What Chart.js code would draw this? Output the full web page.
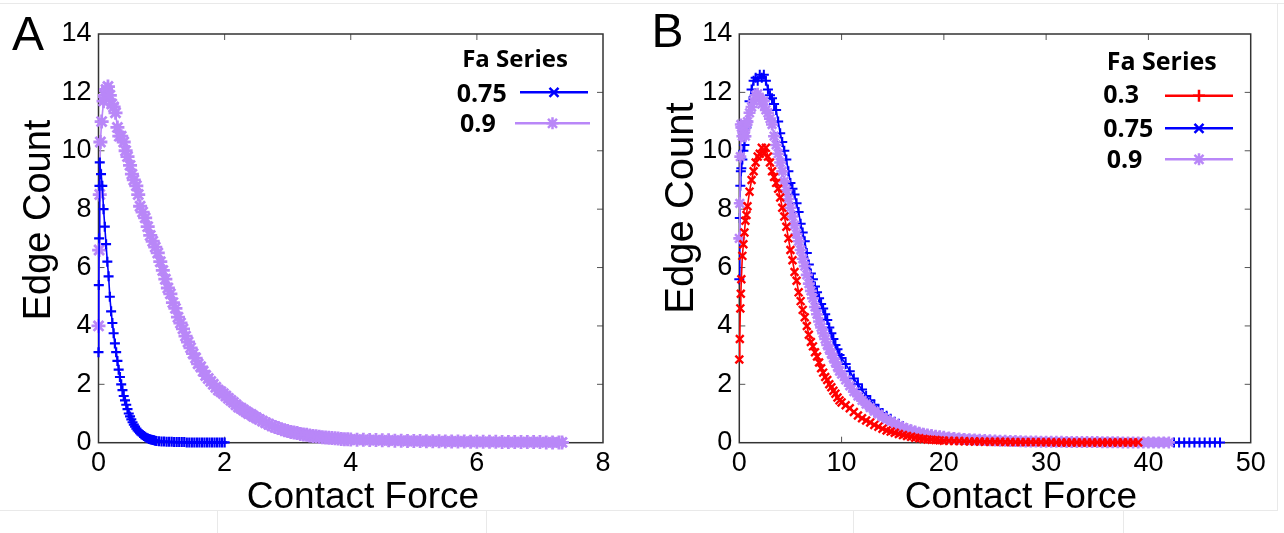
<!DOCTYPE html>
<html>
<head>
<meta charset="utf-8">
<script src="https://cdn.jsdelivr.net/npm/chart.js@4.4.1/dist/chart.umd.min.js"></script>
<style>
html,body{margin:0;padding:0;background:#fff;}
body{width:1284px;height:533px;position:relative;overflow:hidden;}
#wa{position:absolute;left:0;top:0;width:640px;height:533px;}
#wb{position:absolute;left:640px;top:0;width:644px;height:533px;}
.ln{position:absolute;background:#e9e9e9;}
</style>
</head>
<body>
<div class="ln" style="left:0;top:3px;width:1284px;height:1px"></div>
<div class="ln" style="left:0;top:510px;width:1278px;height:1px"></div>
<div class="ln" style="left:217px;top:510px;width:1px;height:23px"></div>
<div class="ln" style="left:486px;top:510px;width:1px;height:23px"></div>
<div class="ln" style="left:853px;top:510px;width:1px;height:23px"></div>
<div class="ln" style="left:1123px;top:510px;width:1px;height:23px"></div>
<div class="ln" style="left:1277px;top:3px;width:1px;height:507px"></div>
<div id="wa"><canvas id="ca" width="640" height="533"></canvas></div>
<div id="wb"><canvas id="cb" width="644" height="533"></canvas></div>
<script>
// ---------- Panel A data ----------
const seriesNamesA = ["0.75", "0.9"];
const xA075 = [0,0.005,0.01,0.015,0.02,0.04,0.06,0.08,0.10,0.12,0.14,0.16,0.18,0.20,0.22,0.24,0.26,0.28,0.30,0.32,0.34,0.36,0.38,0.40,0.42,0.44,0.46,0.48,0.50,0.52,0.54,0.56,0.58,0.60,0.62,0.64,0.66,0.68,0.70,0.72,0.74,0.76,0.78,0.80,0.82,0.84,0.86,0.88,0.90,0.92,0.96,1.00,1.04,1.08,1.12,1.16,1.20,1.24,1.28,1.32,1.36,1.40,1.44,1.48,1.52,1.56,1.60,1.64,1.68,1.72,1.76,1.80,1.84,1.88,1.92,1.96,2.00];
const yA075 = [3.1,5.4,7.0,8.8,9.6,9.2,8.8,8.0,7.4,6.8,6.2,5.7,5.0,4.5,4.1,3.75,3.4,3.1,2.8,2.5,2.25,2.0,1.8,1.6,1.45,1.3,1.15,1.0,0.9,0.8,0.7,0.62,0.55,0.48,0.42,0.38,0.33,0.29,0.26,0.23,0.2,0.17,0.15,0.13,0.12,0.1,0.09,0.08,0.07,0.06,0.05,0.04,0.04,0.03,0.03,0.03,0.02,0.02,0.02,0.02,0.02,0.01,0.01,0.01,0.01,0.01,0.01,0.01,0.01,0.01,0.01,0.01,0.01,0.01,0.01,0.01,0.01];
const xA09 = [0,0.01,0.02,0.03,0.05,0.08,0.10,0.12,0.15,0.18,0.21,0.24,0.27,0.30,0.33,0.36,0.40,0.43,0.46,0.50,0.53,0.56,0.60,0.63,0.66,0.70,
0.74,0.78,0.82,0.86,0.90,0.94,0.98,1.02,1.06,1.10,1.14,1.18,1.22,1.26,1.30,1.34,1.38,1.42,1.46,1.50,1.54,1.58,1.62,1.66,1.70,1.74,1.78,1.82,1.86,1.90,1.94,1.98,2.02,2.06,2.10,2.14,2.18,2.22,2.26,2.30,2.34,2.38,2.42,2.46,2.50,
2.55,2.60,2.65,2.70,2.75,2.80,2.85,2.90,2.95,3.00,3.05,3.10,3.15,3.20,3.25,3.30,3.35,3.40,3.45,3.50,3.55,3.60,3.65,3.70,3.75,3.80,3.85,3.90,3.95,4.00,
4.1,4.2,4.3,4.4,4.5,4.6,4.7,4.8,4.9,5.0,5.1,5.2,5.3,5.4,5.5,5.6,5.7,5.8,5.9,6.0,6.1,6.2,6.3,6.4,6.5,6.6,6.7,6.8,6.9,7.0,7.1,7.2,7.3,7.35];
const yA09 = [4.0,6.6,8.5,10.3,11.0,11.7,11.9,12.1,12.2,11.9,11.6,11.5,11.3,10.8,10.5,10.5,10.3,10.0,9.8,9.5,9.2,9.0,8.8,8.5,8.1,7.9,
7.7,7.4,7.1,6.9,6.7,6.5,6.2,5.9,5.6,5.3,5.1,4.8,4.6,4.3,4.1,3.9,3.65,3.45,3.25,3.05,2.9,2.7,2.6,2.45,2.3,2.2,2.1,2.0,1.9,1.8,1.75,1.68,1.6,1.52,1.45,1.38,1.3,1.22,1.18,1.12,1.06,1.0,0.97,0.9,0.86,
0.8,0.74,0.68,0.63,0.58,0.54,0.5,0.46,0.43,0.4,0.37,0.35,0.33,0.3,0.28,0.27,0.25,0.23,0.22,0.2,0.19,0.18,0.17,0.16,0.15,0.14,0.13,0.12,0.12,0.11,
0.1,0.1,0.09,0.09,0.08,0.08,0.07,0.07,0.06,0.06,0.06,0.05,0.05,0.05,0.04,0.04,0.04,0.04,0.03,0.03,0.03,0.03,0.03,0.02,0.02,0.02,0.02,0.02,0.02,0.02,0.01,0.01,0.01,0.01];

// ---------- Panel B data ----------
const seriesNamesB = ["0.3", "0.75", "0.9"];
const xB = [0,0.05,0.1,0.15,0.2,0.3,0.4,0.5,0.6,0.7,0.8,
1.0,1.2,1.4,1.6,1.8,2.0,2.2,2.4,2.6,2.8,3.0,3.2,3.4,3.6,3.8,4.0,4.2,4.4,4.6,4.8,5.0,5.2,5.4,5.6,5.8,6.0,6.2,6.4,6.6,6.8,7.0,7.2,7.4,7.6,7.8,8.0,8.2,8.4,8.6,8.8,9.0,9.2,9.4,9.6,9.8,10.0,
10.4,10.8,11.2,11.6,12.0,12.4,12.8,13.2,13.6,14.0,14.4,14.8,15.2,15.6,16.0,16.4,16.8,17.2,17.6,18.0,18.4,18.8,19.2,19.6,20.0,
20.5,21,21.5,22,22.5,23,23.5,24,24.5,25,25.5,26,26.5,27,27.5,28,28.5,29,29.5,30,30.5,31,31.5,32,32.5,33,33.5,34,34.5,35,35.5,36,36.5,37,37.5,38,38.5,39,
39.5,40,40.5,41,41.5,42,42.5,43,43.5,44,44.5,45,45.5,46,46.5,47];
const yB03 = [2.85,3.55,4.6,5.1,5.6,6.4,6.8,7.2,7.6,7.8,8.1,
8.6,9.0,9.3,9.6,9.8,9.9,10.1,9.9,10.1,9.8,9.6,9.3,9.1,8.9,8.7,8.4,8.05,7.75,7.4,7.0,6.6,6.25,5.85,5.55,5.15,4.85,4.55,4.3,4.0,3.7,3.45,3.3,3.1,2.95,2.75,2.55,2.4,2.25,2.15,2.0,1.9,1.78,1.68,1.55,1.45,1.38,
1.28,1.18,1.05,0.93,0.84,0.76,0.69,0.61,0.55,0.48,0.42,0.38,0.34,0.3,0.26,0.23,0.2,0.17,0.15,0.13,0.11,0.1,0.09,0.08,0.07,
0.065,0.06,0.055,0.05,0.045,0.04,0.04,0.035,0.03,0.03,0.03,0.025,0.025,0.02,0.02,0.02,0.02,0.02,0.015,0.015,0.015,0.01,0.01,0.01,0.01,0.01,0.01,0.01,0.01,0.01,0.01,0.01,0.01,0.01,0.01,0.01,0.01,0.01];
const yB075 = [5.6,7.7,8.8,9.3,9.4,9.7,10.0,10.2,10.5,10.8,11.0,
11.7,12.1,12.4,12.5,12.4,12.6,12.5,12.6,12.4,12.1,11.9,11.8,11.6,11.4,11.0,10.6,10.3,10.0,9.7,9.3,8.9,8.7,8.5,8.2,7.9,7.5,7.2,6.9,6.5,6.1,5.8,5.6,5.35,5.15,4.95,4.75,4.6,4.4,4.2,3.95,3.75,3.55,3.35,3.2,3.0,2.9,
2.7,2.45,2.2,2.0,1.82,1.6,1.45,1.3,1.15,1.02,0.92,0.82,0.72,0.65,0.57,0.5,0.44,0.39,0.35,0.32,0.28,0.25,0.22,0.2,0.18,
0.16,0.15,0.135,0.12,0.11,0.1,0.09,0.08,0.075,0.07,0.06,0.055,0.05,0.045,0.04,0.04,0.035,0.035,0.03,0.03,
0.03,0.025,0.025,0.025,0.02,0.02,0.02,0.02,0.02,0.02,0.015,0.015,0.015,0.015,0.015,
0.01,0.01,0.01,0.01,0.01,0.01,0.01,0.01,0.01,0.01,0.01,0.01,0.01,0.01,0.01,0.01,0.01,0.01,0.01];
const yB09 = [7.0,8.2,9.8,10.9,10.8,10.5,10.6,10.7,10.5,10.9,11.0,
11.3,11.5,11.7,11.9,11.95,11.8,11.6,11.7,11.4,11.3,11.1,10.9,10.5,10.2,9.9,9.6,9.3,8.95,8.65,8.35,8.05,7.75,7.45,7.15,6.9,6.6,6.3,6.05,5.75,5.45,5.2,4.95,4.65,4.4,4.15,3.95,3.75,3.55,3.35,3.2,3.05,2.9,2.75,2.6,2.45,2.35,
2.15,1.95,1.75,1.6,1.45,1.32,1.2,1.08,0.98,0.88,0.8,0.72,0.65,0.58,0.52,0.47,0.42,0.38,0.34,0.31,0.28,0.26,0.24,0.22,0.2,
0.18,0.16,0.145,0.13,0.12,0.11,0.1,0.09,0.08,0.075,0.07,0.065,0.06,0.055,0.05,0.045,0.04,0.04,0.035,0.035,
0.03,0.03,0.03,0.025,0.025,0.02,0.02,0.02,0.02,0.02,0.015,0.015,0.015,0.015,
0.01,0.01,0.01,0.01,0.01,0.01,0.01,0.01,0.01,0.01];

// ---------- Axis tick settings ----------
const yTicks = {min: 0, max: 14, step: 2};
const xTicksA = {min: 0, max: 8, step: 2};
const xTicksB = {min: 0, max: 50, step: 10};

const RED = '#ff0000', BLUE = '#0000ff', PURPLE = '#b987f8';
const TICKFONT = {family: '"Liberation Sans", Arial, sans-serif', size: 27};

function pts(xs, ys) { return ys.map((v, i) => ({x: xs[i], y: v})); }

function mark(ctx, style, x, y, r) {
  ctx.beginPath();
  if (style === 'cross' || style === 'star') {
    ctx.moveTo(x - r, y); ctx.lineTo(x + r, y);
    ctx.moveTo(x, y - r); ctx.lineTo(x, y + r);
  }
  if (style === 'crossRot' || style === 'star') {
    const d = r * 0.75;
    ctx.moveTo(x - d, y - d); ctx.lineTo(x + d, y + d);
    ctx.moveTo(x - d, y + d); ctx.lineTo(x + d, y - d);
  }
  ctx.stroke();
}

const deco = {
  id: 'deco',
  beforeDatasetsDraw(chart) {
    const {ctx, chartArea: a, scales: {x, y}} = chart;
    ctx.save();
    ctx.strokeStyle = '#555'; ctx.lineWidth = 1;
    ctx.beginPath();
    x.ticks.forEach(t => {
      if (t.value <= x.min || t.value >= x.max) return;
      const p = x.getPixelForValue(t.value);
      ctx.moveTo(p, a.bottom); ctx.lineTo(p, a.bottom - 6);
      ctx.moveTo(p, a.top); ctx.lineTo(p, a.top + 6);
    });
    y.ticks.forEach(t => {
      if (t.value <= y.min || t.value >= y.max) return;
      const p = y.getPixelForValue(t.value);
      ctx.moveTo(a.left, p); ctx.lineTo(a.left + 6, p);
      ctx.moveTo(a.right, p); ctx.lineTo(a.right - 6, p);
    });
    ctx.stroke();
    ctx.strokeStyle = '#333'; ctx.lineWidth = 1.5;
    ctx.strokeRect(a.left, a.top, a.right - a.left, a.bottom - a.top);
    ctx.restore();
  },
  afterDraw(chart, args, o) {
    const ctx = chart.ctx;
    ctx.save();
    ctx.fillStyle = '#000';
    ctx.font = '48px "Liberation Sans", Arial, sans-serif';
    ctx.textAlign = 'center'; ctx.textBaseline = 'alphabetic';
    ctx.fillText(o.letter.t, o.letter.x, o.letter.y);
    ctx.font = o.xt.size + 'px "Liberation Sans", Arial, sans-serif';
    ctx.fillText(o.xt.t, o.xt.x, o.xt.y);
    ctx.save();
    ctx.translate(o.yt.x, o.yt.y);
    ctx.rotate(-Math.PI / 2);
    ctx.font = o.yt.size + 'px "Liberation Sans", Arial, sans-serif';
    ctx.fillText(o.yt.t, 0, 0);
    ctx.restore();
    ctx.font = 'bold ' + o.leg.head.size + 'px "Open Sans", sans-serif';
    ctx.textAlign = 'center';
    ctx.fillText(o.leg.head.t, o.leg.head.x, o.leg.head.y);
    ctx.textAlign = 'left';
    ctx.font = 'bold 25px "Open Sans", sans-serif';
    o.leg.items.forEach(it => {
      ctx.fillStyle = '#000';
      ctx.fillText(it.t, it.tx, it.ty);
      ctx.strokeStyle = it.c; ctx.lineWidth = 2.5;
      ctx.beginPath(); ctx.moveTo(it.x0, it.ly); ctx.lineTo(it.x1, it.ly); ctx.stroke();
      mark(ctx, it.m, (it.x0 + it.x1) / 2, it.ly, 6);
    });
    ctx.restore();
  }
};

function ds(label, xs, ys, color, style, r, bw) {
  return {
    label: label, data: pts(xs, ys),
    borderColor: color, backgroundColor: color,
    borderWidth: 1.6, pointStyle: style, pointRadius: r,
    pointBorderWidth: bw, pointBorderColor: color, pointBackgroundColor: color,
    tension: 0, clip: false
  };
}

function makeChart(id, datasets, xt, padRight, yWidth, decoOpts) {
  return new Chart(document.getElementById(id), {
    type: 'line',
    data: {datasets: datasets},
    plugins: [deco],
    options: {
      responsive: false, animation: false, devicePixelRatio: 1,
      events: [],
      layout: {padding: {left: 0, top: 34, right: padRight, bottom: 0}},
      plugins: {legend: {display: false}, tooltip: {enabled: false}, deco: decoOpts},
      scales: {
        x: {
          type: 'linear', min: xt.min, max: xt.max,
          ticks: {stepSize: xt.step, color: '#000', font: TICKFONT, padding: 5, maxRotation: 0},
          grid: {display: false, drawTicks: false}, border: {display: false},
          afterFit: s => { s.height = 90.3; }
        },
        y: {
          type: 'linear', min: yTicks.min, max: yTicks.max,
          ticks: {stepSize: yTicks.step, color: '#000', font: TICKFONT, padding: 7},
          grid: {display: false, drawTicks: false}, border: {display: false},
          afterFit: s => { s.width = yWidth; }
        }
      }
    }
  });
}

makeChart('ca', [
  ds(seriesNamesA[0], xA075, yA075, BLUE, 'cross', 5, 2.2),
  ds(seriesNamesA[1], xA09, yA09, PURPLE, 'star', 7, 2.8)
], xTicksA, 37, 98.5, {
  letter: {t: 'A', x: 28, y: 50},
  xt: {t: 'Contact Force', x: 363, y: 508, size: 37},
  yt: {t: 'Edge Count', x: 50, y: 220, size: 38},
  leg: {
    head: {t: 'Fa Series', x: 515, y: 66.7, size: 24},
    items: [
      {t: seriesNamesA[0], tx: 456.7, ty: 101.7, c: BLUE, m: 'crossRot', x0: 520, x1: 588, ly: 92.3},
      {t: seriesNamesA[1], tx: 460, ty: 131.7, c: PURPLE, m: 'star', x0: 515, x1: 590, ly: 123.3}
    ]
  }
});

makeChart('cb', [
  ds(seriesNamesB[0], xB, yB03, RED, 'crossRot', 5.5, 2.4),
  ds(seriesNamesB[2], xB, yB09, PURPLE, 'star', 6, 2.6),
  ds(seriesNamesB[1], xB, yB075, BLUE, 'cross', 5, 2)
], xTicksB, 33.3, 99.3, {
  letter: {t: 'B', x: 27.5, y: 47},
  xt: {t: 'Contact Force', x: 381, y: 508, size: 37},
  yt: {t: 'Edge Count', x: 53.3, y: 208, size: 40},
  leg: {
    head: {t: 'Fa Series', x: 521.7, y: 70, size: 25},
    items: [
      {t: seriesNamesB[0], tx: 463.3, ty: 103.3, c: RED, m: 'cross', x0: 525, x1: 593, ly: 95.7},
      {t: seriesNamesB[1], tx: 463.3, ty: 136.7, c: BLUE, m: 'crossRot', x0: 525, x1: 593, ly: 128.3},
      {t: seriesNamesB[2], tx: 466.7, ty: 168.3, c: PURPLE, m: 'star', x0: 525, x1: 593, ly: 159.3}
    ]
  }
});
</script>
</body>
</html>
